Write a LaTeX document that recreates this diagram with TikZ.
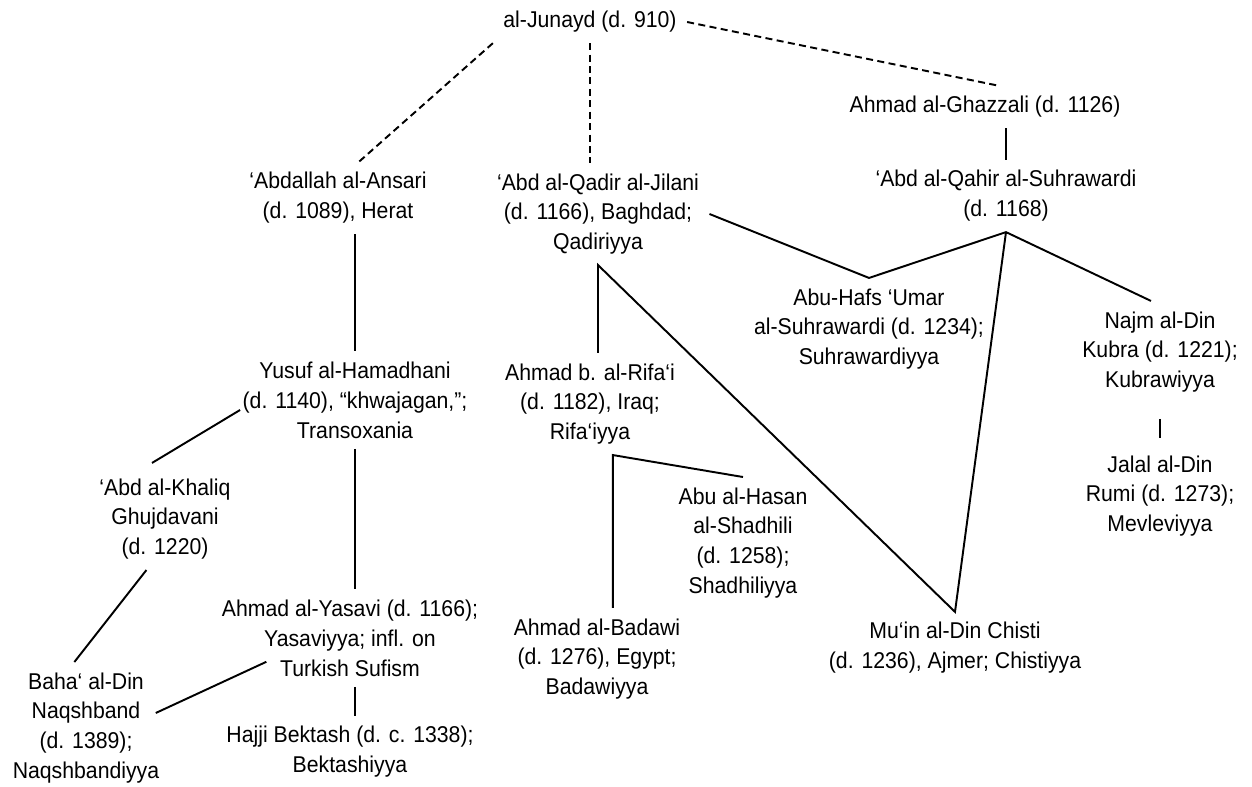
\documentclass[tikz,border=0pt]{standalone}
\usepackage{fontspec}
\setmainfont{Liberation Sans}[FakeStretch=0.93]

\begin{document}
\begin{tikzpicture}[x=0.02cm,y=-0.02cm,line width=1.1pt]
	\tikzset{every node/.style = {align=center, inner sep=3pt, outer sep=3pt, font=\fontsize{13}{17}\selectfont}}
	\tikzset{link/.style = {dash pattern=on 4pt off 2.5pt}}
	\useasboundingbox (0,0) rectangle (1252,787);
	\node (junayd) at (590,22) {al-Junayd (d. 910)};
	\node (ghazzali) at (985,107) {Ahmad al-Ghazzali (d. 1126)};
	\node (qahir) at (1006,196) {‘Abd al-Qahir al-Suhrawardi\\(d. 1168)};
	\node (ansari) at (338,198) {‘Abdallah al-Ansari\\(d. 1089), Herat};
	\node (jilani) at (598,214) {‘Abd al-Qadir al-Jilani\\(d. 1166), Baghdad;\\Qadiriyya};
	\node (abuhafs) at (869,329) {Abu-Hafs ‘Umar\\al-Suhrawardi (d. 1234);\\Suhrawardiyya};
	\node (kubra) at (1160,352) {Najm al-Din\\Kubra (d. 1221);\\Kubrawiyya};
	\node (rumi) at (1160,496) {Jalal al-Din\\Rumi (d. 1273);\\Mevleviyya};
	\node (yusuf) at (355,400) {Yusuf al-Hamadhani\\(d. 1140), “khwajagan,”;\\Transoxania};
	\node (rifai) at (590,404) {Ahmad b. al-Rifa‘i\\(d. 1182), Iraq;\\Rifa‘iyya};
	\node (khaliq) at (165,519) {‘Abd al-Khaliq\\Ghujdavani\\(d. 1220)};
	\node (yasavi) at (350,638) {Ahmad al-Yasavi (d. 1166);\\Yasaviyya; infl. on\\Turkish Sufism};
	\node (bektash) at (350,752) {Hajji Bektash (d. c. 1338);\\Bektashiyya};
	\node (naqshband) at (86,728) {Baha‘ al-Din\\Naqshband\\(d. 1389);\\Naqshbandiyya};
	\node (shadhili) at (743,543) {Abu al-Hasan\\al-Shadhili\\(d. 1258);\\Shadhiliyya};
	\node (badawi) at (597,659) {Ahmad al-Badawi\\(d. 1276), Egypt;\\Badawiyya};
	\node (chisti) at (955,648) {Mu‘in al-Din Chisti\\(d. 1236), Ajmer; Chistiyya};
	\draw[link] (junayd.south west) -- (ansari.60);
	\draw[link] (junayd.south) -- (junayd.south |- jilani.north);
	\draw[link] (junayd.east) -- ([xshift=8]ghazzali.north);
	\draw (ghazzali.south -| qahir.north) -- (qahir.north);
	\draw (jilani.east) -- (abuhafs.north) -- (qahir.south) -- (kubra.100);
	\draw (qahir.south) -- (chisti.north) -- (jilani.south) -- (jilani.south |- rifai.north);
	\draw (ansari.south -| yusuf.north) -- (yusuf.north);
	\draw (yusuf.south) -- (yusuf.south |- yasavi.north);
	\draw (yasavi.south -| yusuf.south) -- (bektash.north -| yusuf.south);
	\draw ([shift={(8,10)}]yusuf.west) -- ([shift={(-13,-5)}]khaliq.north);
	\draw (khaliq.250) -- (naqshband.100);
	\draw ([shift={(55,-25)}]yasavi.south west) -- ([shift={(-14,-15)}]naqshband.east);
	\draw (shadhili.north) -- ([xshift=13]rifai.south) -- ([xshift=13]rifai.south |- badawi.north);
	\draw[shorten <=9pt, shorten >=4pt] (kubra.south) -- (rumi.north);
\end{tikzpicture}
\end{document}
